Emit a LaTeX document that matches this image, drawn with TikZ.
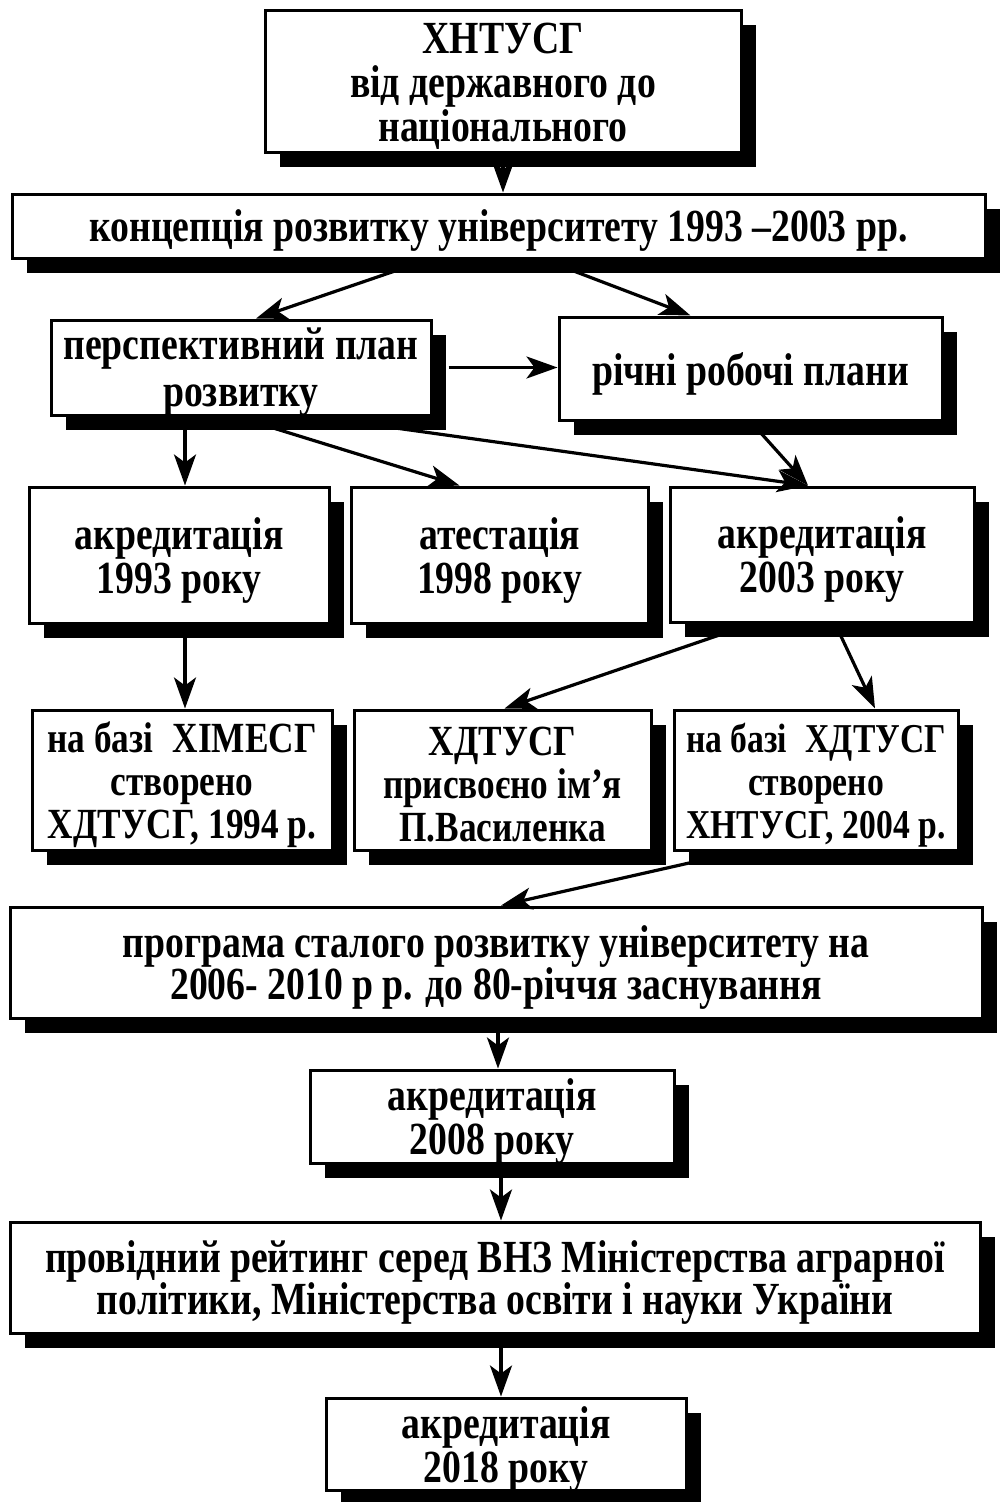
\documentclass[tikz,border=0pt]{standalone}
\usepackage{fontspec}
\setmainfont{Liberation Serif}[FakeStretch=0.82]
\usetikzlibrary{arrows.meta,shadows}
\newcommand\flowbox[6][]{%
  \node[box, minimum width=#4, minimum height=#5] (#2) at (#3) {};
  \node[txt,#1] (#2t) at ([yshift=-5pt]#2.center) {#6};}
\begin{document}
\begin{tikzpicture}[x=1pt,y=-1pt,
  box/.style={draw, line width=3pt, fill=white, inner sep=0pt,
    drop shadow={shadow xshift=15pt, shadow yshift=-15pt, fill=black, opacity=1}},
  txt/.style={align=center, inner sep=0pt, font=\fontsize{46}{41}\selectfont\bfseries},
  wide/.style={font=\fontsize{46}{44}\selectfont\bfseries},
  loose/.style={font=\fontsize{46}{47}\selectfont\bfseries},
  rowthree/.style={font=\fontsize{43}{43}\selectfont\bfseries},
  narrow/.style={font=\fontsize{41}{43}\selectfont\bfseries},
  arr/.style={line width=3.2pt, -{Stealth[length=31pt,width=22pt,inset=8pt]}}]
\useasboundingbox (0,0) rectangle (1001,1502);
\fill[white] (0,0) rectangle (1001,1502);

\flowbox[wide]{top}{503,81}{476pt}{142pt}{ХНТУСГ\\від державного до\\національного}
\flowbox{conc}{498.5,226}{973pt}{64pt}{концепція розвитку університету 1993 –2003 рр.}
\flowbox[loose]{persp}{241,367.5}{380pt}{95pt}{перспективний план\\розвитку}
\flowbox{richni}{750.5,368.5}{383pt}{103pt}{річні робочі плани}
\flowbox[wide]{akr93}{179,555}{300pt}{136pt}{акредитація\\1993 року}
\flowbox[wide]{atest}{499.5,555}{297pt}{136pt}{атестація\\1998 року}
\flowbox[wide]{akr03}{822,554.5}{304pt}{135pt}{акредитація\\2003 року}
\flowbox[rowthree]{baza1}{182,780}{300pt}{140pt}{на базі\hspace{0.45em}ХІМЕСГ\\створено\\ХДТУСГ, 1994 р.}
\flowbox[rowthree]{prysv}{502.5,780}{297pt}{140pt}{ХДТУСГ\\присвоєно ім’я\\П.Василенка}
\flowbox[narrow]{baza2}{816,780}{284pt}{140pt}{на базі\hspace{0.45em}ХДТУСГ\\створено\\ХНТУСГ, 2004 р.}
\flowbox{prog}{496,962.5}{972pt}{111pt}{програма сталого розвитку університету на\\2006- 2010 р р. до 80-річчя заснування}
\flowbox[wide]{akr08}{492,1116.5}{364pt}{93pt}{акредитація\\2008 року}
\flowbox{provid}{495,1277.5}{970pt}{111pt}{провідний рейтинг серед ВНЗ Міністерства аграрної\\політики, Міністерства освіти і науки України}
\flowbox[wide]{akr18}{506,1444}{360pt}{92pt}{акредитація\\2018 року}

\draw[arr] (top.south) -- (top.south |- conc.north);
\draw[arr] ([xshift=-70pt]conc.south) -- ([xshift=15pt]persp.north);
\draw[arr] ([xshift=45pt]conc.south) -- ([xshift=-60pt]richni.north);
\draw[arr] ([xshift=16pt]persp.east) -- (persp.east -| richni.west);
\draw[arr] ([xshift=6pt]akr93.north |- persp.south) -- ([xshift=6pt]akr93.north);
\draw[arr] ([xshift=-5pt]persp.south) -- ([xshift=-40pt]atest.north);
\draw[arr] ([xshift=72pt]persp.south) -- ([xshift=-14pt]akr03.north);
\draw[arr] (richni.south) -- ([xshift=-14pt]akr03.north);
\draw[arr] ([xshift=6pt]akr93.south) -- ([xshift=3pt]baza1.north);
\draw[arr] ([xshift=-69pt]akr03.south) -- ([xshift=2pt]prysv.north);
\draw[arr] ([xshift=13pt]akr03.south) -- ([xshift=59pt]baza2.north);
\draw[arr] ([xshift=-76pt]baza2.south) -- ([xshift=5pt]prog.north);
\draw[arr] ([xshift=6pt]akr08.north |- prog.south) -- ([xshift=6pt]akr08.north);
\draw[arr] ([xshift=9pt]akr08.south) -- ([xshift=9pt]akr08.south |- provid.north);
\draw[arr] ([xshift=-5pt]akr18.north |- provid.south) -- ([xshift=-5pt]akr18.north);
\end{tikzpicture}
\end{document}
